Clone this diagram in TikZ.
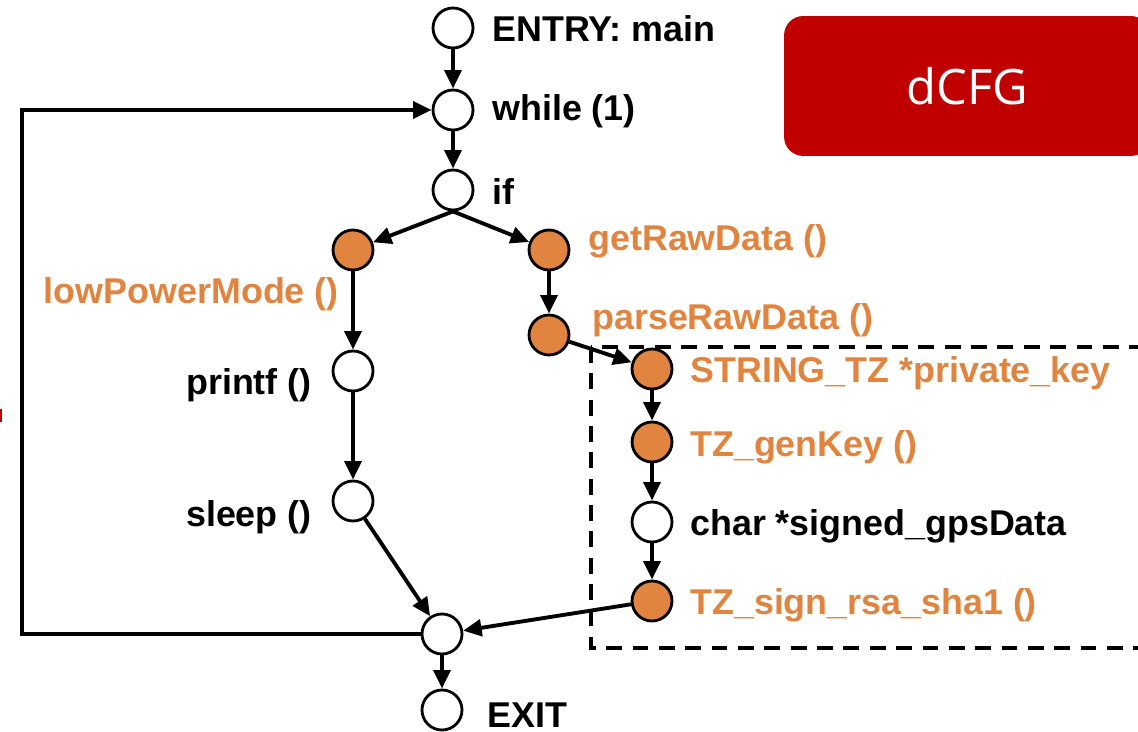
\documentclass[tikz,border=0pt]{standalone}
\usepackage{fontspec}
\setmainfont{Liberation Sans}
\newfontfamily\tagfont{Open Sans}
\usepackage{xcolor}
\usetikzlibrary{arrows.meta, positioning}
\definecolor{cfgorange}{HTML}{E0843F}
\definecolor{cfgred}{HTML}{C00000}

\begin{document}
\begin{tikzpicture}[x=0.02cm, y=-0.02cm,
    blk/.style={circle, draw=black, line width=1.6pt, fill=#1, minimum size=0.8cm, inner sep=0pt},
    blk/.default=white,
    lbl/.style={font=\fontsize{20.4}{24}\selectfont\bfseries, inner sep=0pt, text=#1},
    lbl/.default=black,
    flow/.style={line width=2.2pt, -{Triangle[length=10.5pt, width=9.5pt]}},
    dashbox/.style={line width=2pt, dash pattern=on 9pt off 6pt},
    tagbox/.style={rectangle, rounded corners=11pt, fill=cfgred, text=white, minimum width=7.32cm, minimum height=2.8cm, font=\tagfont\fontsize{27.8}{30}\selectfont},
]
\useasboundingbox (0,0) rectangle (1138,732);
\clip (0,0) rectangle (1138,732);

\node[tagbox] (tag) at (967,86) {dCFG};
\draw[dashbox] (591,347) rectangle (1160,648);
\draw[cfgred, line width=1.5pt] (1,409) -- (1,422);

\node[blk] (entry) at (453,28) {};
\node[blk] (while) at (453,110) {};
\node[blk] (ifn) at (453,190) {};
\node[blk=cfgorange] (lowpow) at (353,250) {};
\node[blk=cfgorange] (getraw) at (549,250) {};
\node[blk=cfgorange] (parse) at (549,335) {};
\node[blk] (printf) at (353,371) {};
\node[blk] (sleep) at (353,501) {};
\node[blk=cfgorange] (strkey) at (652,369) {};
\node[blk=cfgorange] (genkey) at (652,442) {};
\node[blk] (signed) at (652,522) {};
\node[blk=cfgorange] (signrsa) at (652,601) {};
\node[blk] (merge) at (442,634) {};
\node[blk] (exit) at (442,710) {};

\node[lbl, anchor=base west] (entrylbl) at (492,42) {ENTRY: main};
\node[lbl, anchor=base west] (whilelbl) at (492,121) {while (1)};
\node[lbl, anchor=base west] (iflbl) at (492,205) {if};
\node[lbl=cfgorange, anchor=base west] (getrawlbl) at (588,251) {getRawData ()};
\node[lbl=cfgorange, anchor=base east] (lowpowlbl) at (339,304) {lowPowerMode ()};
\node[lbl=cfgorange, anchor=base west] (parselbl) at (592,330) {parseRawData ()};
\node[lbl, anchor=base east] (printflbl) at (312,395) {printf ()};
\node[lbl, anchor=base east] (sleeplbl) at (312,526) {sleep ()};
\node[lbl=cfgorange, anchor=base west] (strkeylbl) at (690,383) {STRING\_TZ *private\_key};
\node[lbl=cfgorange, anchor=base west] (genkeylbl) at (690,457) {TZ\_genKey ()};
\node[lbl, anchor=base west] (signedlbl) at (690,535) {char *signed\_gpsData};
\node[lbl=cfgorange, anchor=base west] (signrsalbl) at (690,614) {TZ\_sign\_rsa\_sha1 ()};
\node[lbl, anchor=base west] (exitlbl) at (487,727) {EXIT};

\coordinate (loopc) at (22,400);

\draw[flow] (entry) -- (while);
\draw[flow] (while) -- (ifn);
\draw[flow] (ifn.south) -- (lowpow);
\draw[flow] (ifn.south) -- (getraw);
\draw[flow] (getraw) -- (parse);
\draw[flow] (lowpow) -- (printf);
\draw[flow] (printf) -- (sleep);
\draw[flow] (parse) -- (strkey);
\draw[flow] (strkey) -- (genkey);
\draw[flow] (genkey) -- (signed);
\draw[flow] (signed) -- (signrsa);
\draw[flow] (sleep) -- (merge);
\draw[flow] (signrsa) -- (merge);
\draw[flow] (merge) -- (exit);
\draw[flow] (merge.west) -| (loopc) |- (while.west);
\end{tikzpicture}
\end{document}
